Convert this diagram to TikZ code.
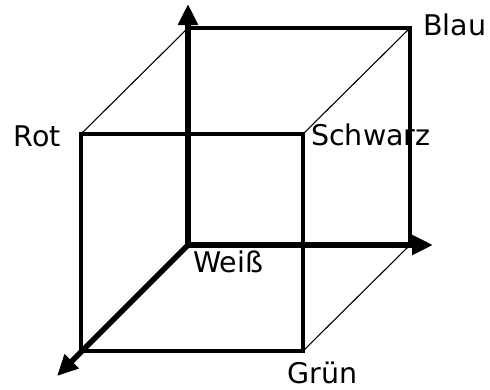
\documentclass[tikz,border=0pt]{standalone}
\usepackage{fontspec}
\setmainfont{DejaVu Sans}
\usetikzlibrary{arrows.meta}
\begin{document}
\begin{tikzpicture}[x=1pt,y=-1pt,
  thinline/.style={line width=1.1pt},
  edge/.style={line width=3.5pt, line join=miter},
  axis/.style={line width=5.5pt,-{Triangle[width=19pt,length=21pt]}},
  lbl/.style={font=\fontsize{28.5}{28.5}\selectfont, inner sep=0pt}]
\useasboundingbox (0,0) rectangle (490,389);
% back square
\coordinate (bTL) at (188,28);
\coordinate (bTR) at (410,28);
\coordinate (bBR) at (410,245);
\coordinate (bBL) at (188,245);
% front square
\coordinate (fTL) at (81,134);
\coordinate (fTR) at (303,134);
\coordinate (fBR) at (303,351);
\coordinate (fBL) at (81,351);
% axis ends
\coordinate (zEnd) at (188,4);
\coordinate (xEnd) at (433,245);
\coordinate (yEnd) at (57,376);
% thin diagonals
\draw[thinline] (fTL) -- (bTL);
\draw[thinline] (fTR) -- (bTR);
\draw[thinline] (fBR) -- (bBR);
% squares
\draw[edge] (bBL) -- (bTL) -- (bTR) -- (bBR) -- cycle;
\draw[edge] (fTL) -- (fTR) -- (fBR) -- (fBL) -- cycle;
% axes
\draw[axis] (bBL) -- (zEnd);
\draw[axis] (bBL) -- (xEnd);
\draw[axis] (bBL) -- (yEnd);
% labels
\node[lbl, anchor=base west] (blau) at (423,35) {Blau};
\node[lbl, anchor=base east] (rot) at (61,146) {Rot};
\node[lbl, anchor=base west] (schwarz) at (311,145) {Schwarz};
\node[lbl, anchor=base west] (weiss) at (193,272) {Weiß};
\node[lbl, anchor=base west] (gruen) at (287,383) {Grün};
\end{tikzpicture}
\end{document}
